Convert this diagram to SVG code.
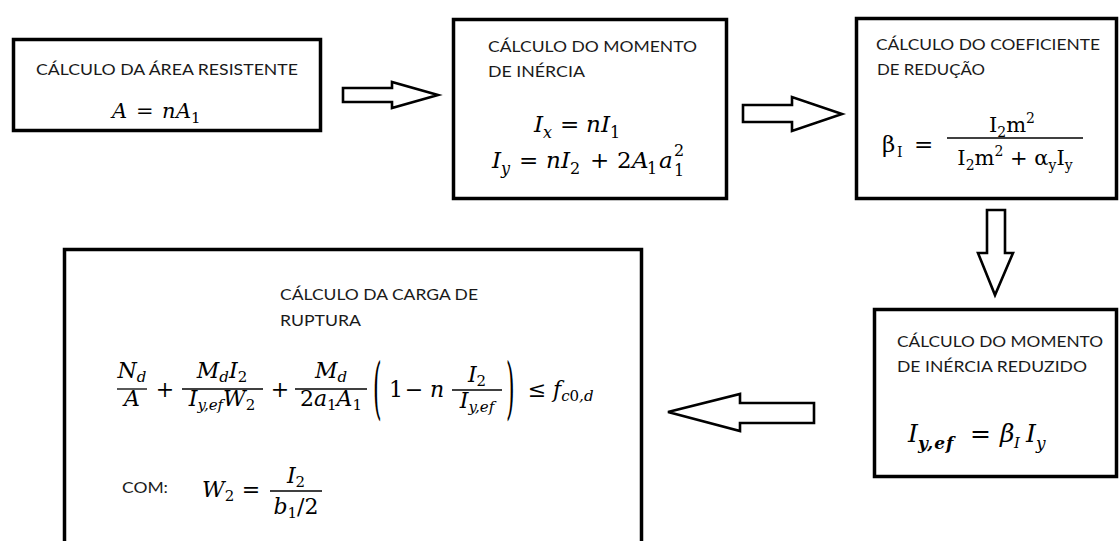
<svg xmlns="http://www.w3.org/2000/svg" width="1120" height="541" viewBox="0 0 1120 541">
<style>
.box{fill:#fff;stroke:#000;stroke-width:3.5}
.arr{fill:#fff;stroke:#000;stroke-width:2.6;stroke-linejoin:miter}
.t{font-family:Lato,"Open Sans","Liberation Sans",Arial,sans-serif;font-size:16px;fill:#1a1a1a}
.m{font-family:"DejaVu Serif","Liberation Serif",serif;font-style:italic;fill:#000}
.u{font-style:normal}
.bar{stroke:#000;stroke-width:1.3}
</style>
<rect x="0" y="0" width="1120" height="541" fill="#fff"/>

<g id="connectors">
<polygon class="arr" points="343,88 392,88 392,82 438,95 392,108 392,102 343,102"/>
<polygon class="arr" points="743,105 792,105 792,97 842,114 792,131 792,122 743,122"/>
<polygon class="arr" points="987,210 1005,210 1005,253 1013,253 995,295 978,253 987,253"/>
<polygon class="arr" points="814,403 740,403 740,394 668,412 740,431 740,423 814,423"/>
</g>

<g id="node-area">
<rect class="box" x="13.5" y="39.5" width="307" height="91"/>
<text class="t" x="36" y="75" textLength="262" lengthAdjust="spacingAndGlyphs">CÁLCULO DA ÁREA RESISTENTE</text>
<text class="m" font-size="21"><tspan x="112" y="118">A</tspan><tspan class="u" x="136" y="118">=</tspan><tspan x="162" y="118">n</tspan><tspan x="176" y="118">A</tspan><tspan class="u" x="191" y="123" font-size="15">1</tspan></text>
</g>

<g id="node-momento">
<rect class="box" x="453.5" y="19.5" width="273" height="179"/>
<text class="t" x="488" y="52" textLength="209" lengthAdjust="spacingAndGlyphs">CÁLCULO DO MOMENTO</text>
<text class="t" x="488" y="77" textLength="97" lengthAdjust="spacingAndGlyphs">DE INÉRCIA</text>
<text class="m" font-size="23"><tspan x="534" y="132">I</tspan><tspan x="543" y="138" font-size="16">x</tspan><tspan class="u" x="560" y="132">=</tspan><tspan x="586" y="132">n</tspan><tspan x="601" y="132">I</tspan><tspan class="u" x="610" y="138" font-size="16">1</tspan></text>
<text class="m" font-size="23"><tspan x="492" y="168">I</tspan><tspan x="501" y="174" font-size="16">y</tspan><tspan class="u" x="519" y="168">=</tspan><tspan x="546" y="168">n</tspan><tspan x="561" y="168">I</tspan><tspan class="u" x="570" y="174" font-size="16">2</tspan><tspan class="u" x="590" y="168">+</tspan><tspan class="u" x="617" y="168">2</tspan><tspan x="632" y="168">A</tspan><tspan class="u" x="647" y="174" font-size="16">1</tspan><tspan x="659" y="168">a</tspan><tspan class="u" x="674" y="156" font-size="16">2</tspan><tspan class="u" x="674" y="176" font-size="16">1</tspan></text>
</g>

<g id="node-coeficiente">
<rect class="box" x="856.5" y="18.5" width="260" height="180"/>
<text class="t" x="876" y="50" textLength="224" lengthAdjust="spacingAndGlyphs">CÁLCULO DO COEFICIENTE</text>
<text class="t" x="877" y="75" textLength="108" lengthAdjust="spacingAndGlyphs">DE REDUÇÃO</text>
<text class="m u" font-size="23"><tspan x="882" y="152">β</tspan><tspan x="897" y="157" font-size="14">I</tspan><tspan x="914" y="152">=</tspan></text>
<text class="m u" font-size="21" x="1012" y="132" text-anchor="middle">I<tspan font-size="14" dy="5">2</tspan><tspan dy="-5">m</tspan><tspan font-size="14" dy="-9">2</tspan></text>
<line class="bar" x1="947" y1="138" x2="1083" y2="138"/>
<text class="m u" font-size="21" x="1015" y="165" text-anchor="middle">I<tspan font-size="14" dy="5">2</tspan><tspan dy="-5">m</tspan><tspan font-size="14" dy="-9">2</tspan><tspan dy="9"> + α</tspan><tspan font-size="14" dy="5">y</tspan><tspan dy="-5">I</tspan><tspan font-size="14" dy="5">y</tspan></text>
</g>

<g id="node-reduzido">
<rect class="box" x="874.5" y="309.5" width="242" height="167"/>
<text class="t" x="897" y="347" textLength="206" lengthAdjust="spacingAndGlyphs">CÁLCULO DO MOMENTO</text>
<text class="t" x="897" y="372" textLength="190" lengthAdjust="spacingAndGlyphs">DE INÉRCIA REDUZIDO</text>
<text class="m" font-size="25"><tspan x="908" y="442">I</tspan><tspan x="918" y="449" font-size="17" font-weight="600" letter-spacing="1">y,ef</tspan><tspan class="u" x="970" y="442">=</tspan><tspan x="1000" y="442">β</tspan><tspan x="1014" y="448" font-size="15">I</tspan><tspan x="1026" y="442">I</tspan><tspan x="1036" y="449" font-size="17">y</tspan></text>
</g>

<g id="node-carga">
<rect class="box" x="64.5" y="249.5" width="577" height="300"/>
<text class="t" x="280" y="300" textLength="198" lengthAdjust="spacingAndGlyphs">CÁLCULO DA CARGA DE</text>
<text class="t" x="280" y="326" textLength="81" lengthAdjust="spacingAndGlyphs">RUPTURA</text>
<g class="m" font-size="22">
<text x="132" y="378" text-anchor="middle">N<tspan font-size="15" dy="4">d</tspan></text>
<line class="bar" x1="117" y1="389" x2="147" y2="389"/>
<text x="132" y="406" text-anchor="middle">A</text>
<text class="u" x="165" y="397" text-anchor="middle">+</text>
<text x="222" y="378" text-anchor="middle">M<tspan font-size="15" dy="4">d</tspan><tspan dy="-4">I</tspan><tspan class="u" font-size="15" dy="4">2</tspan></text>
<line class="bar" x1="182" y1="389" x2="263" y2="389"/>
<text x="222" y="406" text-anchor="middle">I<tspan font-size="15" dy="4">y,ef</tspan><tspan dy="-4">W</tspan><tspan class="u" font-size="15" dy="4">2</tspan></text>
<text class="u" x="280" y="397" text-anchor="middle">+</text>
<text x="331" y="378" text-anchor="middle">M<tspan font-size="15" dy="4">d</tspan></text>
<line class="bar" x1="295" y1="389" x2="367" y2="389"/>
<text x="331" y="406" text-anchor="middle"><tspan class="u">2</tspan>a<tspan class="u" font-size="15" dy="4">1</tspan><tspan dy="-4">A</tspan><tspan class="u" font-size="15" dy="4">1</tspan></text>
<text class="u" transform="translate(373,411) scale(1,3.1)">(</text>
<text class="u" x="389" y="397">1</text>
<text class="u" x="414" y="397" text-anchor="middle">−</text>
<text x="437" y="397" text-anchor="middle">n</text>
<text x="477" y="382" text-anchor="middle">I<tspan class="u" font-size="15" dy="4">2</tspan></text>
<line class="bar" x1="452" y1="390" x2="502" y2="390"/>
<text x="477" y="408" text-anchor="middle">I<tspan font-size="15" dy="4">y,ef</tspan></text>
<text class="u" transform="translate(506,411) scale(1,3.1)">)</text>
<text class="u" x="537" y="397" text-anchor="middle">≤</text>
<text x="553" y="397">f<tspan font-size="15" dy="4">c<tspan class="u">0</tspan>,d</tspan></text>
</g>
<text class="t" x="122" y="493" textLength="46" lengthAdjust="spacingAndGlyphs">COM:</text>
<g class="m" font-size="22">
<text x="202" y="497">W<tspan class="u" font-size="15" dy="4">2</tspan></text>
<text class="u" x="251" y="497" text-anchor="middle">=</text>
<text x="296" y="483" text-anchor="middle">I<tspan class="u" font-size="15" dy="4">2</tspan></text>
<line class="bar" x1="270" y1="491" x2="322" y2="491"/>
<text x="296" y="514" text-anchor="middle">b<tspan class="u" font-size="15" dy="4">1</tspan><tspan class="u" dy="-4">/2</tspan></text>
</g>
</g>
</svg>
